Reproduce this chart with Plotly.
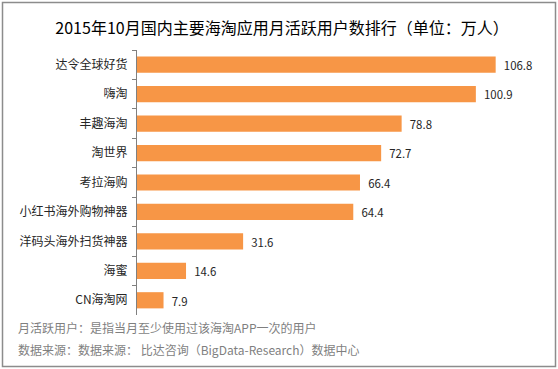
import plotly.graph_objects as go

categories = ["达令全球好货", "嗨淘", "丰趣海淘", "淘世界", "考拉海购", "小红书海外购物神器", "洋码头海外扫货神器", "海蜜", "CN海淘网"]
values = [106.8, 100.9, 78.8, 72.7, 66.4, 64.4, 31.6, 14.6, 7.9]
title_text = "2015年10月国内主要海淘应用月活跃用户数排行（单位：万人）"
note1 = "月活跃用户：是指当月至少使用过该海淘APP一次的用户"
note2 = "数据来源：数据来源： 比达咨询（BigData-Research）数据中心"

W, H = 558, 369
L, R, T, B = 137, 18, 50, 54
pw, ph = W - L - R, H - T - B

def px(x):
    return (x - L) / pw

def py(y):
    return 1 - (y - T) / ph

FONT = "Noto Sans CJK SC, Microsoft YaHei, sans-serif"

fig = go.Figure(go.Bar(
    x=values, y=categories, orientation="h",
    marker=dict(color="#F79646", line=dict(width=0)),
    text=values, texttemplate="  %{x}", textposition="outside",
    textfont=dict(size=12, color="#262626", family=FONT),
    cliponaxis=False, width=0.55,
))

fig.update_layout(
    width=W, height=H,
    margin=dict(l=L, r=R, t=T, b=B),
    paper_bgcolor="white", plot_bgcolor="white",
    showlegend=False,
    font=dict(family=FONT, size=12, color="#262626"),
    title=dict(text=title_text, x=282 / W, xref="container", xanchor="center",
               y=1 - 28 / H, yref="container", yanchor="middle",
               font=dict(size=16, color="#000000", family=FONT, weight="normal")),
    xaxis=dict(range=[0, 120], visible=False, fixedrange=True),
    yaxis=dict(autorange="reversed", showline=True, linecolor="#808080", linewidth=1,
               ticks="outside", tickson="boundaries", ticklen=4, tickcolor="#808080",
               showgrid=False, ticklabelstandoff=6,
               tickfont=dict(size=12, color="#262626", family=FONT)),
    annotations=[
        dict(text=note1, x=px(16), y=py(327), xref="paper", yref="paper",
             xanchor="left", yanchor="middle", showarrow=False,
             font=dict(size=12, color="#7f7f7f", family=FONT)),
        dict(text=note2, x=px(16), y=py(349), xref="paper", yref="paper",
             xanchor="left", yanchor="middle", showarrow=False,
             font=dict(size=12, color="#7f7f7f", family=FONT)),
    ],
    shapes=[
        dict(type="rect", xref="paper", yref="paper",
             x0=px(2.5), x1=px(555.5), y0=py(366.5), y1=py(2.5),
             line=dict(color="#8c8c8c", width=1.5), fillcolor="rgba(0,0,0,0)", layer="below"),
    ],
)

fig.write_html("out.html")
